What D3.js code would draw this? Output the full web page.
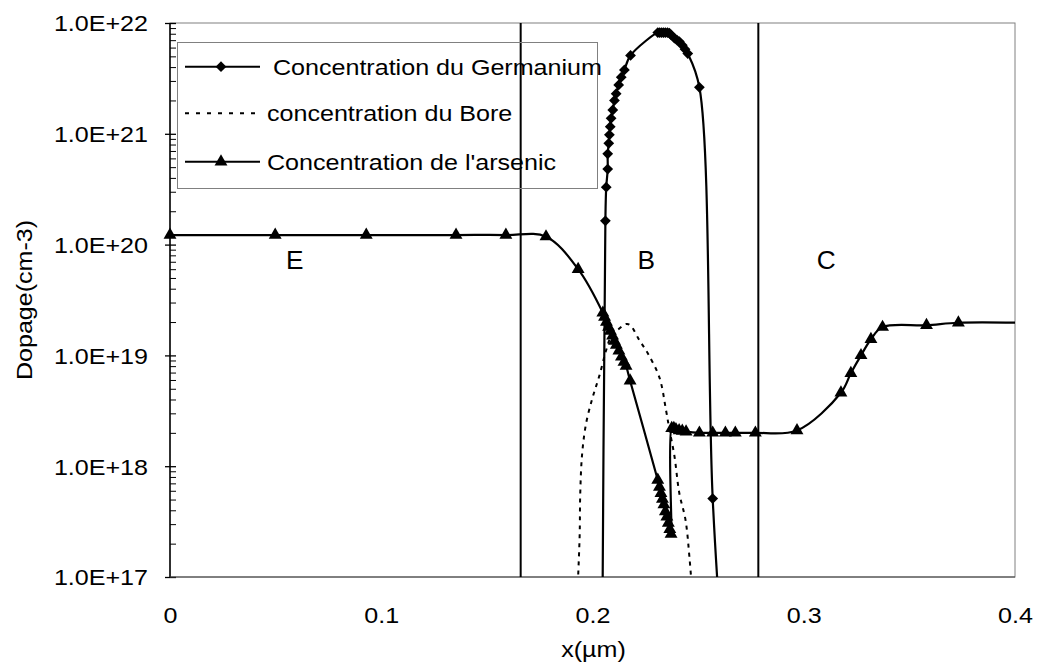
<!DOCTYPE html>
<html>
<head>
<meta charset="utf-8">
<script src="https://cdn.jsdelivr.net/npm/d3@7"></script>
<style>
  body { margin: 0; background: #fff; }
  svg { display: block; }
  text { font-family: "Liberation Sans", Arial, sans-serif; fill: #000; }
</style>
</head>
<body>
<div id="chart"></div>
<script>
// ---- data ----
const xTicks = [0, 0.1, 0.2, 0.3, 0.4];
const yTicks = [1e17, 1e18, 1e19, 1e20, 1e21, 1e22];

const seriesNames = ["Concentration du Germanium", "concentration du Bore", "Concentration de l'arsenic"];

// Germanium, [x (um), cm-3]
const germanium = [
  [0.2045, 1e16], [0.2061, 1.64e20], [0.2065, 3.3e20], [0.2072, 4.8e20], [0.2072, 6.6e20],
  [0.2077, 8.2e20], [0.2080, 9.8e20], [0.2084, 1.16e21], [0.2088, 1.38e21], [0.2096, 1.64e21],
  [0.2104, 2.0e21], [0.2112, 2.3e21], [0.2124, 2.76e21], [0.2136, 3.24e21], [0.2151, 3.77e21],
  [0.2180, 5.1e21], [0.2309, 8.2e21], [0.2318, 8.2e21], [0.2327, 8.2e21], [0.2336, 8.2e21],
  [0.2345, 8.2e21], [0.2355, 8.2e21], [0.2364, 8.1e21], [0.2372, 7.8e21], [0.2388, 7.3e21],
  [0.2400, 7.0e21], [0.2411, 6.8e21], [0.2425, 6.3e21], [0.2438, 5.8e21], [0.2451, 5.3e21],
  [0.2506, 2.63e21], [0.2569, 5.1e17], [0.2626, 1e16]
];

// Bore (no markers)
const bore = [
  [0.1925, 5e16], [0.1939, 2.3e17], [0.1942, 5.7e17], [0.1951, 1.3e18], [0.1970, 2.45e18],
  [0.2001, 4.2e18], [0.2033, 6.6e18], [0.2065, 1.12e19], [0.2088, 1.48e19], [0.2120, 1.7e19],
  [0.2159, 1.92e19], [0.2178, 1.88e19], [0.2222, 1.37e19], [0.2261, 1.05e19], [0.2317, 6.3e18],
  [0.2348, 3.2e18], [0.2364, 2.15e18], [0.2388, 1.23e18], [0.2411, 5.7e17], [0.2440, 3.3e17],
  [0.2459, 1.5e17], [0.2478, 5e16]
];

// Arsenic
const arsenic = [
  [0, 1.22e20], [0.0498, 1.22e20], [0.0929, 1.22e20], [0.1354, 1.22e20], [0.159, 1.22e20],
  [0.178, 1.18e20], [0.1932, 6e19],
  [0.2049, 2.42e19], [0.2057, 2.22e19], [0.2066, 2.0e19], [0.2076, 1.8e19], [0.2085, 1.66e19],
  [0.2095, 1.5e19], [0.2104, 1.35e19], [0.2113, 1.24e19], [0.2125, 1.1e19], [0.2137, 9.7e18],
  [0.2149, 8.7e18], [0.2159, 8.0e18], [0.2178, 5.9e18],
  [0.2309, 7.5e17], [0.2317, 6.5e17], [0.2324, 5.7e17], [0.2331, 5.06e17], [0.2338, 4.5e17],
  [0.2345, 3.9e17], [0.2352, 3.5e17], [0.2359, 3.07e17], [0.2366, 2.7e17], [0.2372, 2.44e17],
  [0.2375, 2.2e18], [0.2385, 2.2e18], [0.2395, 2.15e18], [0.2410, 2.1e18], [0.2425, 2.08e18],
  [0.2443, 2.05e18], [0.2506, 2.0e18], [0.2569, 2.0e18], [0.2629, 2.0e18], [0.2676, 2.0e18],
  [0.2771, 2.0e18], [0.2968, 2.1e18], [0.3176, 4.6e18], [0.3223, 6.9e18], [0.3271, 1.0e19],
  [0.3318, 1.4e19], [0.3373, 1.8e19], [0.3581, 1.87e19], [0.3732, 1.97e19], [0.402, 1.97e19]
];

// region boundaries and labels
const boundaries = [0.166, 0.2785];
const regionLabels = [["E", 0.059], ["B", 0.2254], ["C", 0.3106]];
const regionLabelLevel = 7.3e19;

// ---- layout ----
const W = 1038, H = 672;
const plot = {left: 170, right: 1015, top: 23, bottom: 577};
const SX = 1.14; // the original text is a bit wider than Arial

const svg = d3.select("#chart").append("svg")
    .attr("width", W)
    .attr("height", H);

const x = d3.scaleLinear().domain([0, 0.4]).range([plot.left, plot.right]);
const y = d3.scaleLog().domain([1e17, 1e22]).range([plot.bottom, plot.top]);

svg.append("clipPath").attr("id", "clip")
  .append("rect")
    .attr("x", plot.left).attr("y", plot.top)
    .attr("width", plot.right - plot.left).attr("height", plot.bottom - plot.top);

// plot frame
svg.append("rect")
    .attr("x", plot.left).attr("y", plot.top)
    .attr("width", plot.right - plot.left).attr("height", plot.bottom - plot.top)
    .attr("fill", "none")
    .attr("stroke", "#808080");

// Y axis, major ticks
const yAxis = svg.append("g")
    .attr("transform", `translate(${plot.left},0)`)
    .call(d3.axisLeft(y)
        .tickValues(yTicks)
        .tickFormat(d => "1.0E+" + Math.round(Math.log10(d)))
        .tickSizeInner(-6).tickSizeOuter(0).tickPadding(19.3))
    .attr("font-size", 22)
    .attr("font-family", null);
yAxis.select(".domain").remove();
yAxis.selectAll("line").attr("x1", -5).attr("stroke", "#000").attr("stroke-width", 1.3);
yAxis.selectAll("text").attr("transform", `scale(${SX},1)`).attr("dy", "0.36em");

// Y axis, minor ticks
const minor = [];
d3.range(17, 22).forEach(e => d3.range(2, 10).forEach(m => minor.push(m * Math.pow(10, e))));
const yMinor = svg.append("g")
    .attr("transform", `translate(${plot.left},0)`)
    .call(d3.axisLeft(y).tickValues(minor).tickFormat("").tickSizeInner(-6).tickSizeOuter(0));
yMinor.select(".domain").remove();
yMinor.selectAll("line").attr("stroke", "#000");

// X axis labels
const xAxis = svg.append("g")
    .attr("transform", `translate(0,${plot.bottom})`)
    .call(d3.axisBottom(x)
        .tickValues(xTicks)
        .tickFormat(d => d === 0 ? "0" : d3.format(".1f")(d))
        .tickSize(0).tickPadding(30))
    .attr("font-size", 22)
    .attr("font-family", null);
xAxis.select(".domain").remove();
xAxis.selectAll("text").attr("transform", `scale(${SX},1)`);

// axis lines
svg.append("line")
    .attr("x1", plot.left).attr("x2", plot.left)
    .attr("y1", plot.top).attr("y2", plot.bottom)
    .attr("stroke", "#000").attr("stroke-width", 1.5);
svg.append("line")
    .attr("x1", plot.left).attr("x2", plot.right)
    .attr("y1", plot.bottom).attr("y2", plot.bottom)
    .attr("stroke", "#404040").attr("stroke-width", 1.2);

// axis titles
svg.append("text")
    .attr("transform", `translate(${(plot.left + plot.right) / 2 + 1},657) scale(${SX},1)`)
    .attr("text-anchor", "middle")
    .style("font-size", "22px")
    .text("x(µm)");
svg.append("text")
    .attr("transform", `translate(32,300) rotate(-90) scale(${SX},1)`)
    .attr("text-anchor", "middle")
    .style("font-size", "22px")
    .text("Dopage(cm-3)");

// region boundaries
svg.selectAll(".boundary")
  .data(boundaries)
  .enter().append("line")
    .attr("class", "boundary")
    .attr("x1", d => x(d)).attr("x2", d => x(d))
    .attr("y1", plot.top).attr("y2", plot.bottom)
    .attr("stroke", "#000").attr("stroke-width", 2);

svg.selectAll(".region")
  .data(regionLabels)
  .enter().append("text")
    .attr("class", "region")
    .attr("transform", d => `translate(${x(d[1])},${y(regionLabelLevel)}) scale(1.05,1)`)
    .attr("dy", "0.36em")
    .attr("text-anchor", "middle")
    .style("font-size", "25px")
    .text(d => d[0]);

// series
const line = d3.line()
    .x(d => x(d[0]))
    .y(d => y(d[1]))
    .curve(d3.curveCatmullRom.alpha(0.5));

const plotArea = svg.append("g").attr("clip-path", "url(#clip)");

plotArea.append("path")
    .datum(bore)
    .attr("d", line)
    .attr("fill", "none")
    .attr("stroke", "#000")
    .attr("stroke-width", 2)
    .attr("stroke-dasharray", "4,5");

plotArea.append("path")
    .datum(germanium)
    .attr("d", line)
    .attr("fill", "none")
    .attr("stroke", "#000")
    .attr("stroke-width", 2.2);

plotArea.append("path")
    .datum(arsenic)
    .attr("d", line)
    .attr("fill", "none")
    .attr("stroke", "#000")
    .attr("stroke-width", 2.2);

const inRange = d => d[0] >= 0 && d[0] <= 0.4 && d[1] >= 1e17 && d[1] <= 1e22;
const diamond = d3.symbol(d3.symbolSquare, 58);
const triangle = d3.symbol(d3.symbolTriangle, 72);

svg.selectAll(".ge-pt")
  .data(germanium.filter(inRange))
  .enter().append("path")
    .attr("class", "ge-pt")
    .attr("d", diamond)
    .attr("transform", d => `translate(${x(d[0])},${y(d[1])}) rotate(45)`)
    .attr("fill", "#000");

svg.selectAll(".as-pt")
  .data(arsenic.filter(inRange))
  .enter().append("path")
    .attr("class", "as-pt")
    .attr("d", triangle)
    .attr("transform", d => `translate(${x(d[0])},${y(d[1])})`)
    .attr("fill", "#000");

// legend
const legend = svg.append("g");
legend.append("rect")
    .attr("x", 177.5).attr("y", 42.5)
    .attr("width", 420).attr("height", 146)
    .attr("fill", "none")
    .attr("stroke", "#808080");

const rowY = [66.7, 113.3, 161.7];
const rowTextX = [273, 267, 267];
seriesNames.forEach((name, i) => {
  const g = legend.append("g");
  g.append("line")
      .attr("x1", 185).attr("x2", 260)
      .attr("y1", rowY[i]).attr("y2", rowY[i])
      .attr("stroke", "#000")
      .attr("stroke-width", 2)
      .attr("stroke-dasharray", i === 1 ? "4,7" : null);
  if (i === 0) {
    g.append("path").attr("d", diamond)
        .attr("transform", `translate(221,${rowY[i]}) rotate(45)`);
  } else if (i === 2) {
    g.append("path").attr("d", triangle)
        .attr("transform", `translate(221,${rowY[i]})`);
  }
  g.append("text")
      .attr("transform", `translate(${rowTextX[i]},${rowY[i]}) scale(${SX},1)`)
      .attr("dy", "0.36em")
      .style("font-size", "22px")
      .text(name);
});
</script>
</body>
</html>
